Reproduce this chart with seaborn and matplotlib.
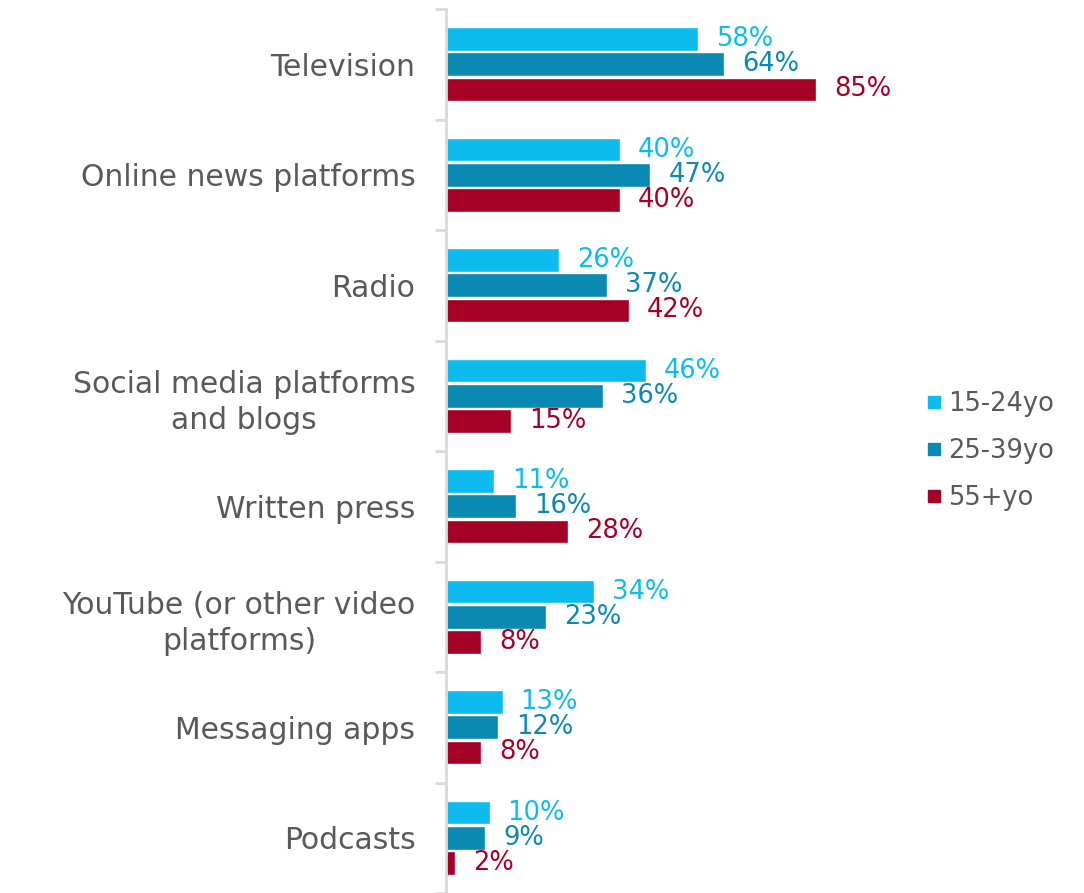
import matplotlib
matplotlib.use("Agg")
import matplotlib.pyplot as plt
from matplotlib.lines import Line2D
import seaborn as sns
import pandas as pd

categories = [
    "Television",
    "Online news platforms",
    "Radio",
    "Social media platforms\nand blogs",
    "Written press",
    "YouTube (or other video\nplatforms)",
    "Messaging apps",
    "Podcasts",
]
groups = ["15-24yo", "25-39yo", "55+yo"]
age_15_24 = [58, 40, 26, 46, 11, 34, 13, 10]
age_25_39 = [64, 47, 37, 36, 16, 23, 12, 9]
age_55_plus = [85, 40, 42, 15, 28, 8, 8, 2]
colors = ["#0DBBEF", "#0A89B3", "#A50026"]

series = [age_15_24, age_25_39, age_55_plus]
rows = []
for g, vals in zip(groups, series):
    for c, v in zip(categories, vals):
        rows.append({"category": c, "group": g, "value": v})
df = pd.DataFrame(rows)

sns.set_style("white")
plt.rcParams["font.family"] = ["DejaVu Sans"]

fig = plt.figure(figsize=(10.84, 8.93), dpi=100)
ax = fig.add_axes([446 / 1084, 0.0, 435 / 1084, 884 / 893])

sns.barplot(
    data=df, x="value", y="category", hue="group", orient="h",
    order=categories, hue_order=groups, palette=colors,
    width=0.68, gap=0.06, saturation=1, legend=False, ax=ax,
)

ax.set_xlim(0, 100)
ax.set_ylim(len(categories) - 0.5, -0.5)
ax.set_xlabel("")
ax.set_ylabel("")
ax.set_xticks([])

# Value labels at bar ends
for container, col in zip(ax.containers, colors):
    for bar in container:
        w = bar.get_width()
        y = bar.get_y() + bar.get_height() / 2
        ax.annotate(f"{w:.0f}%", xy=(w, y), xytext=(13, 0),
                    textcoords="offset points", ha="left", va="center",
                    fontsize=18.5, color=col)

# Category labels and separators between groups
ax.set_yticks(range(len(categories)))
ax.set_yticklabels(categories, fontsize=21.5, color="#595959")
for lab in ax.get_yticklabels():
    lab.set_multialignment("center")
    lab.set_linespacing(1.3)
ax.tick_params(axis="y", which="major", length=0, pad=22)
ax.set_yticks([i - 0.5 for i in range(len(categories) + 1)], minor=True)
ax.tick_params(axis="y", which="minor", length=8, width=2, color="#D9D9D9", left=True)

for s in ["top", "right", "bottom"]:
    ax.spines[s].set_visible(False)
ax.spines["left"].set_color("#D9D9D9")
ax.spines["left"].set_linewidth(2)

handles = [Line2D([0], [0], marker="s", linestyle="", markersize=9,
                  markerfacecolor=c, markeredgecolor=c) for c in colors]
fig.legend(handles, groups, loc="center left", bbox_to_anchor=(926 / 1084, 1 - 451 / 893),
           frameon=False, fontsize=18.5, labelcolor="#595959", handlelength=0.6,
           handletextpad=0.25, labelspacing=0.8, borderaxespad=0, borderpad=0)

fig.savefig("out.png", dpi=100)
